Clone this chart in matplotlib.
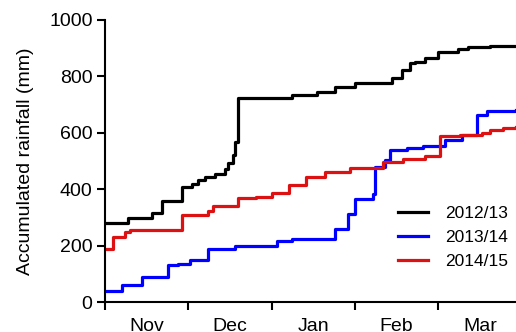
import numpy as np
import matplotlib.pyplot as plt

plt.rcParams['font.family'] = ['Liberation Sans', 'DejaVu Sans']

# days since 1 Nov at which the running total changes, and the new total (mm)
days_1213 = [0, 0.7, 8.3, 16.9, 20.5, 27.7, 31.3, 33.5, 36, 39.6, 43.2, 44.3, 46, 46.8,
             47.9, 67.3, 76.3, 82.8, 90, 103.3, 106.9, 109.8, 111.6, 115.2, 119.9,
             127.1, 130.7, 138.6, 148]
rain_1213 = [280, 280, 300, 316, 358, 407, 418, 432, 444, 453, 473, 492, 520, 567,
             725, 734, 746, 761, 775, 796, 823, 847, 852, 864, 888,
             896, 903, 906, 906]

days_1314 = [0, 0.7, 6.1, 13.3, 22.7, 26.3, 30.6, 37.1, 46.8, 61.9, 67.3, 82.8, 87.5,
             90, 96.5, 97.2, 100.8, 102.6, 108.7, 114.5, 122.4, 128.5, 133.9, 137.5, 148]
rain_1314 = [41, 41, 61, 89, 132, 136, 150, 188, 199, 217, 224, 258, 312,
             367, 382, 478, 505, 540, 548, 553, 573, 591, 665, 677, 680]

days_1415 = [0, 0.7, 2.9, 7.2, 9, 27.7, 37.1, 38.9, 47.9, 54.4, 60.1, 66.2, 72.4,
             79.2, 88.2, 100.1, 107.3, 115.2, 120.6, 127.8, 135.7, 138.6, 143.3, 148]
rain_1415 = [188, 188, 232, 250, 257, 308, 323, 342, 371, 374, 388, 417, 442,
             463, 474, 498, 506, 518, 589, 592, 601, 610, 619, 622]

months = ['Nov', 'Dec', 'Jan', 'Feb', 'Mar']
month_start = [0, 30, 60, 90, 120]

fig = plt.figure(figsize=(5.16, 3.32), dpi=100, facecolor='white')
ax = fig.add_axes([0.2035, 0.0895, 0.7965, 0.8505])

ax.step(days_1213, rain_1213, where='post', color='black', lw=2.3, label='2012/13')
ax.step(days_1314, rain_1314, where='post', color='#0000ff', lw=2.3, label='2013/14')
ax.step(days_1415, rain_1415, where='post', color='#dd1111', lw=2.3, label='2014/15')

ax.set_xlim(0, 148)
ax.set_ylim(0, 1000)
ax.set_yticks([0, 200, 400, 600, 800, 1000])
ax.set_xticks(month_start)
ax.set_xticklabels([])
ax.set_xticks([m + 15 for m in month_start], minor=True)
ax.set_xticklabels(months, minor=True)
ax.tick_params(axis='x', which='minor', length=0, pad=11, labelsize=14)
ax.tick_params(axis='both', which='major', length=5.5, width=1.5, labelsize=14, pad=3.5)

for s in ['top', 'right']:
    ax.spines[s].set_visible(False)
for s in ['left', 'bottom']:
    ax.spines[s].set_linewidth(1.5)

ax.set_ylabel('Accumulated rainfall (mm)', fontsize=14, labelpad=11)

ax.legend(loc='center left', bbox_to_anchor=(0.771, 0.284), bbox_transform=fig.transFigure,
          frameon=False, fontsize=12.5, handlelength=1.75, handletextpad=0.95,
          labelspacing=0.5, borderpad=0, borderaxespad=0)

fig.savefig('out.png', dpi=100)
